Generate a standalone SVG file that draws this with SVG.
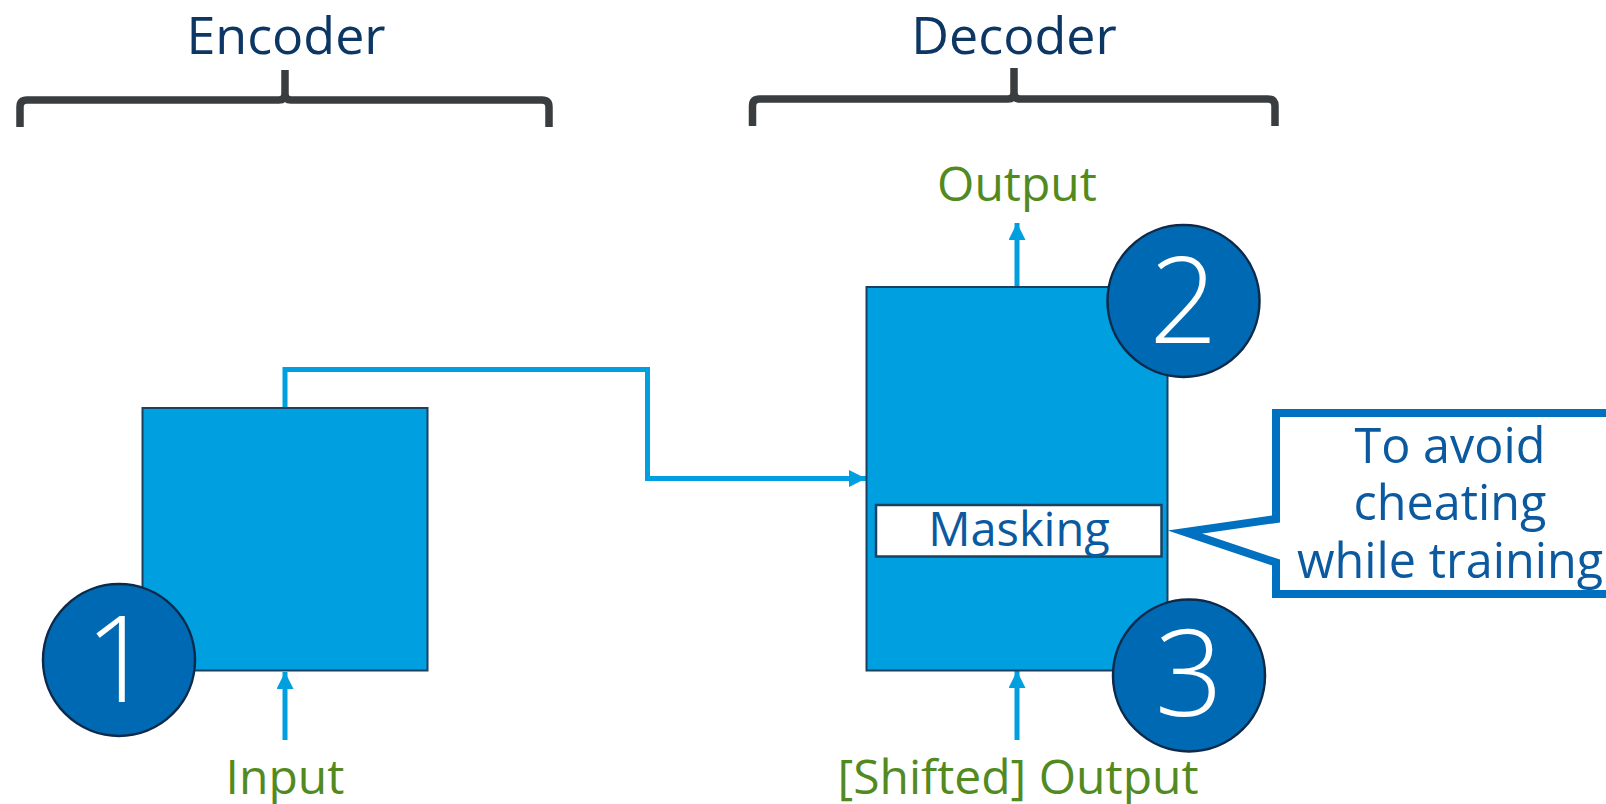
<svg xmlns="http://www.w3.org/2000/svg" width="1606" height="804" viewBox="0 0 1606 804">
  <defs>
    <marker id="ah" markerUnits="userSpaceOnUse" markerWidth="18" markerHeight="18" refX="17" refY="8.5" orient="auto">
      <path d="M0,0 L17,8.5 L0,17 z" fill="#009fdf"/>
    </marker>
    <style>
      .title { font-family: "Open Sans", "Liberation Sans", sans-serif; font-size: 52px; fill: #0c3663; text-anchor: middle; }
      .brace { fill: none; stroke: #3a3d3f; stroke-width: 7.5; }
      .box { fill: #009fdf; stroke: #1c4060; stroke-width: 2; }
      .badge { fill: #0069b4; stroke: #0d2a4a; stroke-width: 2.5; }
      .num { font-family: "Open Sans", "Liberation Sans", sans-serif; font-weight: 300; font-size: 120px; fill: #ffffff; text-anchor: middle; }
      .io { font-family: "Open Sans", "Liberation Sans", sans-serif; font-size: 48px; fill: #538a1f; text-anchor: middle; }
      .conn { fill: none; stroke: #009fdf; stroke-width: 5; marker-end: url(#ah); }
      .mask { fill: #ffffff; stroke: #1c4060; stroke-width: 2.5; }
      .masktxt { font-family: "Open Sans", "Liberation Sans", sans-serif; font-size: 47px; fill: #0b5aa0; text-anchor: middle; }
      .calltxt { font-family: "Open Sans", "Liberation Sans", sans-serif; font-size: 48.5px; fill: #0b5aa0; text-anchor: middle; }
      .callout { fill: #ffffff; stroke: #0070c0; stroke-width: 8; stroke-miterlimit: 10; }
    </style>
  </defs>

  <g id="encoder-label">
    <text class="title" x="286" y="54">Encoder</text>
    <path class="brace" d="M20,127 V107 Q20,100 27,100 H279 Q285,100 285,94 V70 M285,94 Q285,100 291,100 H542 Q549,100 549,107 V127"/>
  </g>
  <g id="decoder-label">
    <text class="title" x="1014" y="54">Decoder</text>
    <path class="brace" d="M752.5,126 V106 Q752.5,99 759.5,99 H1008 Q1014,99 1014,93 V68 M1014,93 Q1014,99 1020,99 H1268 Q1275,99 1275,106 V126"/>
  </g>

  <g id="connectors">
    <polyline class="conn" points="285,408 285,369.5 647.5,369.5 647.5,478.5 866,478.5"/>
    <line class="conn" x1="285" y1="740" x2="285" y2="672"/>
    <line class="conn" x1="1017" y1="286" x2="1017" y2="223"/>
    <line class="conn" x1="1017" y1="740" x2="1017" y2="671"/>
  </g>

  <g id="encoder">
    <rect class="box" x="142.5" y="408" width="285" height="262.5"/>
  </g>
  <g id="decoder">
    <rect class="box" x="866.5" y="287" width="301" height="383.5"/>
  </g>
  <g id="masking">
    <rect class="mask" x="876" y="505" width="285.5" height="51.5"/>
    <text class="masktxt" x="1019" y="546">Masking</text>
  </g>

  <g id="callout">
    <polygon class="callout" points="1276,413 1630,413 1630,594 1276,594 1276,562.5 1185,532 1276,519"/>
    <text class="calltxt" x="1450" y="462.5">To avoid</text>
    <text class="calltxt" x="1450" y="520">cheating</text>
    <text class="calltxt" x="1450" y="577.5">while training</text>
  </g>

  <g id="badge1">
    <circle class="badge" cx="119" cy="660" r="76"/>
    <text class="num" x="119" y="702">1</text>
  </g>
  <g id="badge2">
    <circle class="badge" cx="1183.5" cy="301" r="76"/>
    <text class="num" x="1183.5" y="343">2</text>
  </g>
  <g id="badge3">
    <circle class="badge" cx="1189" cy="675.5" r="76"/>
    <text class="num" x="1189" y="716">3</text>
  </g>

  <g id="labels">
    <text class="io" x="1017" y="200.5">Output</text>
    <text class="io" x="285" y="793.5">Input</text>
    <text class="io" x="1018" y="793.5">[Shifted] Output</text>
  </g>
</svg>
